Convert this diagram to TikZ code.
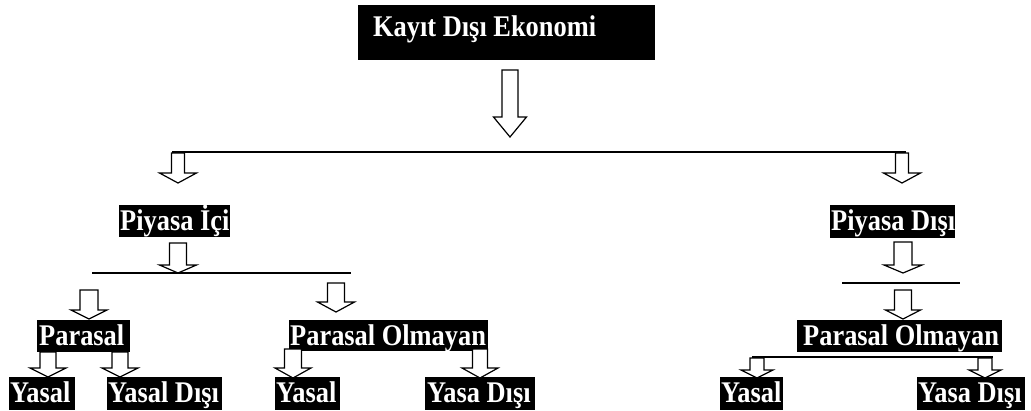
\documentclass[tikz,border=0pt]{standalone}
\usepackage{fontspec}
\setmainfont{Liberation Serif}[FakeStretch=0.88]
\tikzset{
  blk/.style={fill=black, draw=none, inner sep=0pt, outer sep=0pt},
  lbl/.style={text=white, font=\bfseries\fontsize{30}{30}\selectfont, inner sep=0pt, anchor=base west},
  barr/.style={draw=black, fill=white, line width=1.2pt, line join=miter},
  hline/.style={draw=black, line width=1.3pt}
}
% #1 centre x, #2 top y, #3 head start y, #4 tip y, #5 half shaft, #6 half head
\newcommand\blockarr[6]{\draw[barr] ({#1-#5},#2) -- ({#1+#5},#2) -- ({#1+#5},#3) -- ({#1+#6},#3) -- (#1,#4) -- ({#1-#6},#3) -- ({#1-#5},#3) -- cycle;}
% #1 name, #2 x1, #3 x2, #4 y1, #5 y2, #6 text x, #7 baseline y, #8 text
\newcommand\tbox[8]{%
  \node[blk, minimum width={(#3-#2)*1pt}, minimum height={(#5-#4)*1pt}] (#1) at ({(#2+#3)/2},{(#4+#5)/2}) {};
  \node[lbl] (#1-t) at (#6,#7) {#8};}
\begin{document}
\begin{tikzpicture}[x=1pt,y=-1pt]
\useasboundingbox (0,0) rectangle (1031,410);
% boxes
\tbox{top}{358}{655}{5}{60}{373}{36}{Kayıt Dışı Ekonomi}
\tbox{pic}{119}{230}{205}{237}{120}{230}{Piyasa İçi}
\tbox{pdis}{830}{955}{205}{238}{831}{230}{Piyasa Dışı}
\tbox{par}{37}{130}{320}{352}{39}{345}{Parasal}
\tbox{pol}{289}{488}{320}{351}{290}{345}{Parasal Olmayan}
\tbox{por}{797}{1002}{320}{352}{803}{345}{Parasal Olmayan}
\tbox{ya}{9}{75}{377}{410}{10}{402}{Yasal}
\tbox{yd}{107}{222}{377}{410}{108}{402}{Yasal Dışı}
\tbox{yb}{275}{340}{377}{410}{276}{402}{Yasal}
\tbox{ydb}{425}{535}{377}{410}{427}{402}{Yasa Dışı}
\tbox{yc}{720}{783}{377}{410}{721}{402}{Yasal}
\tbox{ydc}{917}{1025}{377}{410}{918}{402}{Yasa Dışı}
% lines
\coordinate (l1a) at (172,152); \coordinate (l1b) at (906,152);
\coordinate (l2a) at (92,273);  \coordinate (l2b) at (351,273);
\coordinate (l3a) at (842,283); \coordinate (l3b) at (960,283);
\coordinate (l4a) at (752,357); \coordinate (l4b) at (993,357);
\draw[hline] (l1a) -- (l1b);
\draw[hline] (l2a) -- (l2b);
\draw[hline] (l3a) -- (l3b);
\draw[hline] (l4a) -- (l4b);
% block arrows
\blockarr{510}{70}{117}{137}{8}{16.5}
\blockarr{178}{153}{173}{183}{6.5}{18.5}
\blockarr{902}{153}{173}{183}{6.5}{18.5}
\blockarr{178}{243}{265}{273}{8.5}{18.5}
\blockarr{903}{242}{265}{273}{9}{19}
\blockarr{89}{290}{310}{319}{9}{18}
\blockarr{336}{283}{302}{312}{8.5}{18.5}
\blockarr{903}{290}{310}{319}{8.5}{17.5}
\blockarr{48}{352}{368}{377}{8}{18}
\blockarr{120}{352}{368}{377}{8}{18}
\blockarr{293}{349}{368}{378}{8.5}{18}
\blockarr{480}{349}{368}{378}{7.5}{18}
\blockarr{757}{358}{370}{378}{7}{16}
\blockarr{985}{358}{370}{378}{7}{16}
\end{tikzpicture}
\end{document}
